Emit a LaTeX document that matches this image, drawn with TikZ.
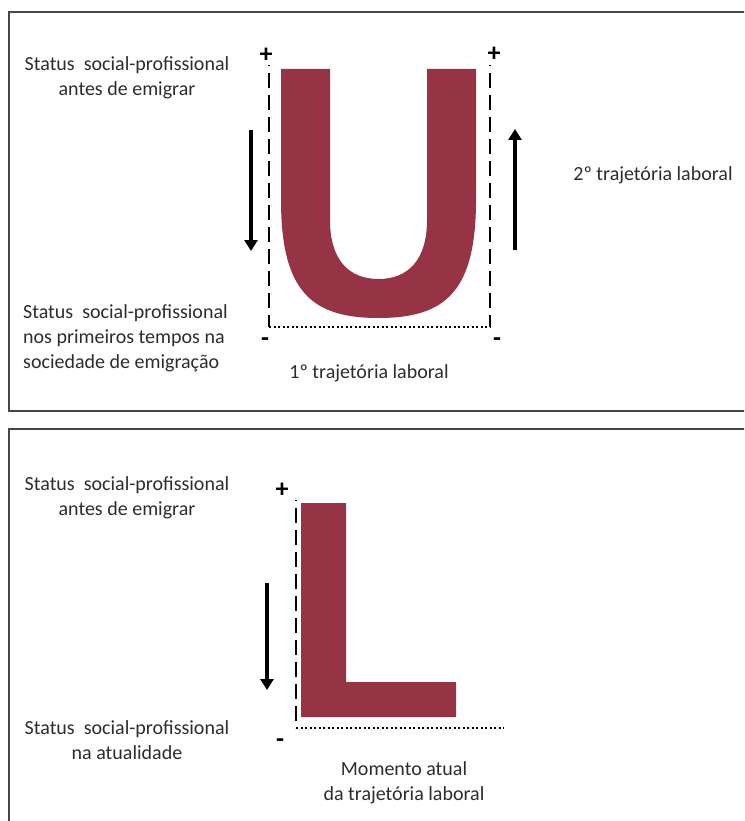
\documentclass[tikz,border=0pt]{standalone}
\usepackage{fontspec}
\setmainfont{Carlito}
\usetikzlibrary{arrows.meta}
\definecolor{maroon}{RGB}{150,52,70}
\definecolor{txt}{RGB}{45,45,45}
\definecolor{framegray}{RGB}{70,70,70}
\begin{document}
\begin{tikzpicture}[x=1pt,y=-1pt,
  lbl/.style={font=\fontsize{20}{25}\selectfont, text=txt, inner sep=0pt, align=center},
  sign/.style={font=\fontsize{26}{26}\selectfont\bfseries, text=black, inner sep=0pt},
  guide/.style={black, line width=2.4pt, dash pattern=on 15pt off 7pt, dash phase=14pt},
  dots/.style={black, line width=2.4pt, dash pattern=on 2pt off 2.5pt},
  move/.style={black, line width=3.4pt, -{Triangle[width=13pt,length=11pt]}},
  panel/.style={framegray, line width=1.6pt}]
\useasboundingbox (0,0) rectangle (744,821);
\fill[white] (0,0) rectangle (744,821);

% panel frames, running off the right and bottom edges
\begin{scope}
  \clip (0,0) rectangle (744,821);
  \draw[panel] (9,12) rectangle (760,411);
  \draw[panel] (9,429) rectangle (760,840);
\end{scope}

% ---------- upper panel: U-shaped trajectory ----------
\fill[maroon] (281,69) -- (281,200)
  .. controls (281,292) and (312,318) .. (378.5,318)
  .. controls (445,318) and (476,292) .. (476,200)
  -- (476,69) -- (427,69) -- (427,220)
  .. controls (427,260) and (408,279) .. (378.5,279)
  .. controls (349,279) and (330,260) .. (330,220)
  -- (330,69) -- cycle;

\coordinate (ut1) at (269,65);
\coordinate (ub1) at (269,327);
\coordinate (ut2) at (490,65);
\coordinate (ub2) at (490,327);
\draw[guide] (ut1) -- (ub1);
\draw[guide] (ut2) -- (ub2);
\draw[dots] (ub1) -- (ub2);

\node[sign] (up1) at (266,55) {+};
\node[sign] (up2) at (494,54) {+};
\node[sign] (un1) at (265,342) {-};
\node[sign] (un2) at (497,342) {-};

\coordinate (a1s) at (251,130);
\coordinate (a1e) at (251,251);
\coordinate (a2s) at (515,250);
\coordinate (a2e) at (515,129);
\draw[move] (a1s) -- (a1e);
\draw[move] (a2s) -- (a2e);

\node[lbl] (ubefore) at (127,77.5) {Status~~social-profissional\\antes de emigrar};
\node[lbl, anchor=west, align=left] (ufirst) at (23,338) {Status~~social-profissional\\nos primeiros tempos na\\sociedade de emigração};
\node[lbl] (utraj1) at (369,373) {1º trajetória laboral};
\node[lbl] (utraj2) at (653,175) {2º trajetória laboral};

% ---------- lower panel: L-shaped trajectory ----------
\fill[maroon] (301,503) -- (346,503) -- (346,682) -- (456,682)
  -- (456,717) -- (301,717) -- cycle;

\coordinate (lt) at (296,500);
\coordinate (lb) at (296,728);
\coordinate (le) at (504,728);
\draw[guide] (lt) -- (lb);
\draw[dots] (lb) -- (le);

\node[sign] (lp) at (282,490) {+};
\node[sign] (ln) at (280,743) {-};

\coordinate (a3s) at (267,583);
\coordinate (a3e) at (267,690);
\draw[move] (a3s) -- (a3e);

\node[lbl] (lbefore) at (127,498) {Status~~social-profissional\\antes de emigrar};
\node[lbl] (lnow) at (127,740) {Status~~social-profissional\\na atualidade};
\node[lbl] (lmoment) at (404,783) {Momento atual\\da trajetória laboral};
\end{tikzpicture}
\end{document}
